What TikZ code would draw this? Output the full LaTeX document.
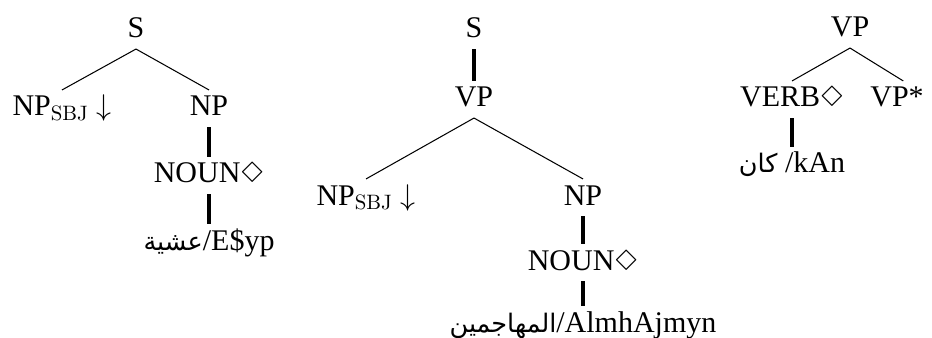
\documentclass[tikz,border=0pt]{standalone}
\usepackage{latexsym}
\usepackage[no-math]{fontspec}
\setmainfont{Liberation Serif}
\newfontfamily\arabicfont[Script=Arabic,Scale=0.85]{DejaVu Sans}
\TeXXeTstate=1
\begin{document}
\begin{tikzpicture}[x=0.48pt,y=-0.48pt,
  lab/.style={anchor=base,inner sep=0pt,outer sep=0pt,text height=12.5pt,text depth=5.3pt,font=\fontsize{14.4}{17}\selectfont},
  br/.style={line width=0.5pt},
  st/.style={line width=1.6pt}]
\useasboundingbox (0,0) rectangle (932,338);
% tree 1
\node[lab] (s1) at (136,38) {S};
\node[lab] (np1s) at (62,116) {NP$_{\mathrm{SBJ}}$ $\downarrow$};
\node[lab] (np1) at (209,116) {NP};
\node[lab] (n1) at (209,183) {NOUN$\Diamond$};
\node[lab] (w1) at (209,250) {{\arabicfont\beginR عشية\endR}/E\$yp};
\draw[br] (s1.south) -- (np1s.north);
\draw[br] (s1.south) -- (np1.north);
\draw[st] (np1.south) -- (n1.north);
\draw[st] (n1.south) -- (w1.north);
% tree 2
\node[lab] (s2) at (474,38) {S};
\node[lab] (vp2) at (474,107) {VP};
\node[lab] (np2s) at (366,205) {NP$_{\mathrm{SBJ}}$ $\downarrow$};
\node[lab] (np2) at (583,205) {NP};
\node[lab] (n2) at (583,270) {NOUN$\Diamond$};
\node[lab] (w2) at (583,332) {{\arabicfont\beginR المهاجمين\endR}/AlmhAjmyn};
\draw[st] (s2.south) -- (vp2.north);
\draw[br] (vp2.south) -- (np2s.north);
\draw[br] (vp2.south) -- (np2.north);
\draw[st] (np2.south) -- (n2.north);
\draw[st] (n2.south) -- (w2.north);
% tree 3
\node[lab] (vp3) at (850,37) {VP};
\node[lab] (v3) at (792,107) {VERB$\Diamond$};
\node[lab] (vps3) at (897,107) {VP*};
\node[lab] (w3) at (792,173) {{\arabicfont\beginR كان\endR} /kAn};
\draw[br] (vp3.south) -- (v3.north);
\draw[br] (vp3.south) -- ([xshift=3pt]vps3.north);
\draw[st] (v3.south) -- (w3.north);
\end{tikzpicture}
\end{document}
